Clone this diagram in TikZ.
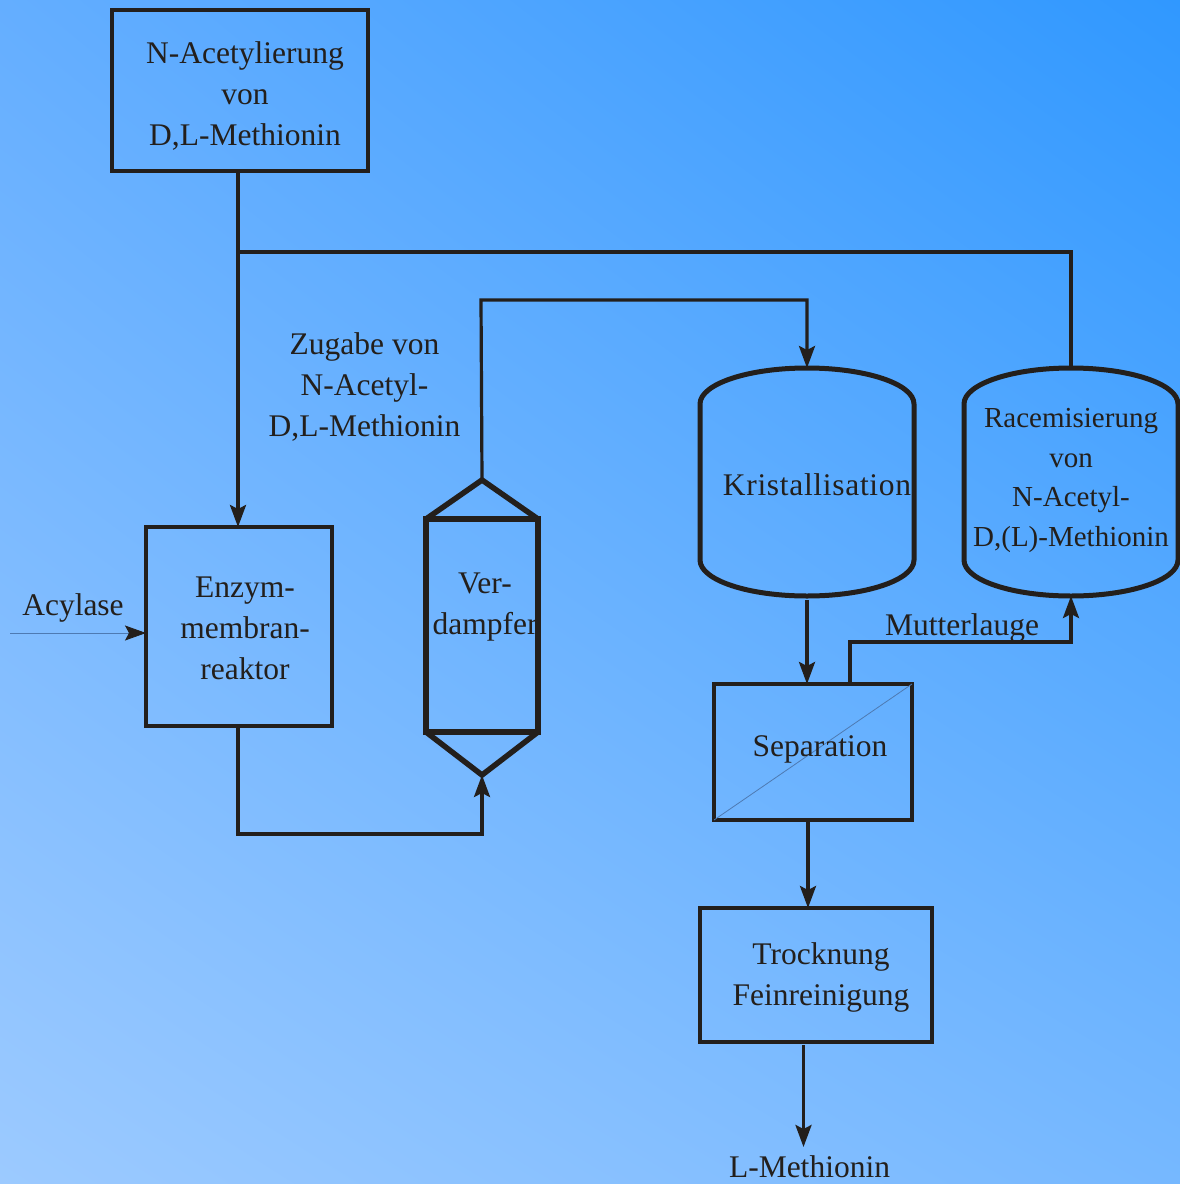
\documentclass[tikz,border=0pt]{standalone}
\usepackage{fontspec}
\setmainfont{Liberation Serif}
\usetikzlibrary{arrows.meta,calc,shadings}
\definecolor{ink}{HTML}{231F1C}
\definecolor{bgTL}{RGB}{100,174,255}
\definecolor{bgTR}{RGB}{48,152,255}
\definecolor{bgBL}{RGB}{156,202,255}
\definecolor{bgBR}{RGB}{118,184,255}
\definecolor{thinline}{RGB}{78,122,178}
\begin{document}
\begin{tikzpicture}[x=1pt,y=-1pt,
  conn/.style={draw=ink, line width=3.2pt},
  arr/.style={conn, -{Stealth[length=22pt,width=16pt,inset=4pt]}},
  box/.style={draw=ink, rectangle, inner sep=0pt, outer sep=0pt},
  slot/.style={rectangle, inner sep=0pt, outer sep=0pt},
  txt/.style={text=ink, font=\fontsize{31.5}{41}\selectfont, align=center, inner sep=0pt, outer sep=0pt},
  tankline/.style={draw=ink, line width=5pt}]
% background
\shade[upper left=bgTL, upper right=bgTR, lower left=bgBL, lower right=bgBR] (0,0) rectangle (1180,1184);
\useasboundingbox (0,0) rectangle (1180,1184);

% boxes
\node[box, line width=4.8pt, minimum width=256pt, minimum height=161pt] (acet) at (240,90.5) {};
\node[box, line width=3.3pt, minimum width=186pt, minimum height=199pt] (enz) at (239,626.5) {};
\node[box, line width=5.5pt, minimum width=112pt, minimum height=213pt] (verd) at (482,625.5) {};
\node[slot, minimum width=214pt, minimum height=228pt] (kris) at (807,482) {};
\node[slot, minimum width=214pt, minimum height=228pt] (race) at (1071,482) {};
\node[box, line width=4.6pt, minimum width=198pt, minimum height=136pt] (sep) at (813,752) {};
\node[box, line width=4pt, minimum width=232pt, minimum height=134pt] (troc) at (816,975) {};

% Verdampfer cones
\coordinate (vtop) at ([yshift=39pt]verd.north);
\coordinate (vbot) at ([yshift=-43pt]verd.south);
\draw[ink, line width=5.5pt, line join=miter] (verd.north west) -- (vtop) -- (verd.north east);
\draw[ink, line width=5.5pt, line join=miter] (verd.south west) -- (vbot) -- (verd.south east);

% tanks
\foreach \t in {kris,race}{
  \draw[tankline] ([yshift=-36pt]\t.north west) -- ([yshift=36pt]\t.south west)
    .. controls +(0,20) and +(-59,0) .. (\t.south)
    .. controls +(59,0) and +(0,20) .. ([yshift=36pt]\t.south east)
    -- ([yshift=-36pt]\t.north east)
    .. controls +(0,-20) and +(59,0) .. (\t.north)
    .. controls +(-59,0) and +(0,-20) .. ([yshift=-36pt]\t.north west) -- cycle;
}

% separation diagonal
\draw[thinline, line width=0.8pt] (sep.south west) -- (sep.north east);

% texts
\node[txt, anchor=north] (acetT) at (245,41.5) {N-Acetylierung\\von\\D,L-Methionin};
\node[txt, anchor=north] (enzT) at (245,577) {Enzym-\\membran-\\reaktor};
\node[txt, anchor=north] (verdT) at (485,572.5) {Ver-\\dampfer};
\node[txt, anchor=base] (krisT) at (817,495.5) {\addfontfeature{LetterSpace=2.2}Kristallisation};
\node[txt, anchor=north, font=\fontsize{29}{39.6}\selectfont] (raceT) at (1071,408.5) {Racemisierung\\von\\N-Acetyl-\\D,(L)-Methionin};
\node[txt, anchor=base] (sepT) at (820,756.5) {Separation};
\node[txt, anchor=north] (trocT) at (821,942.5) {Trocknung\\Feinreinigung};
\node[txt, anchor=north] (zugT) at (364.5,332.5) {Zugabe von\\N-Acetyl-\\D,L-Methionin};
\node[txt, anchor=base] (acyT) at (73,615) {Acylase};
\node[txt, anchor=base] (mutT) at (962,635) {Mutterlauge};
\node[txt, anchor=base] (lmetT) at (809.5,1177) {L-Methionin};

% connectors
\coordinate (j1) at (238,252);
\draw[conn] (acet.south -| j1) -- (j1) -| (race.north);
\draw[arr] (j1) -- (enz.north -| j1);
\draw[arr] (enz.south -| j1) -- (238,834) -| (vbot);
\draw[arr] (vtop) -- (481,300) -| (kris.north);
\draw[arr, shorten <=4pt] (kris.south) -- (sep.north -| kris.south);
\coordinate (m1) at (850,642);
\draw[arr] (sep.north -| m1) -- (m1) -| (race.south);
\coordinate (s1) at (808,0);
\draw[arr] (sep.south -| s1) -- (troc.north -| s1);
\coordinate (lend) at (803.5,1147);
\draw[arr] (troc.south -| lend) ++(0,3) -- (lend);
\coordinate (acs) at (10,633);
\draw[thinline, line width=0.8pt, -{Stealth[length=21pt,width=15pt,inset=4pt,color=ink]}] (acs) -- (enz.west |- acs);
\end{tikzpicture}
\end{document}
